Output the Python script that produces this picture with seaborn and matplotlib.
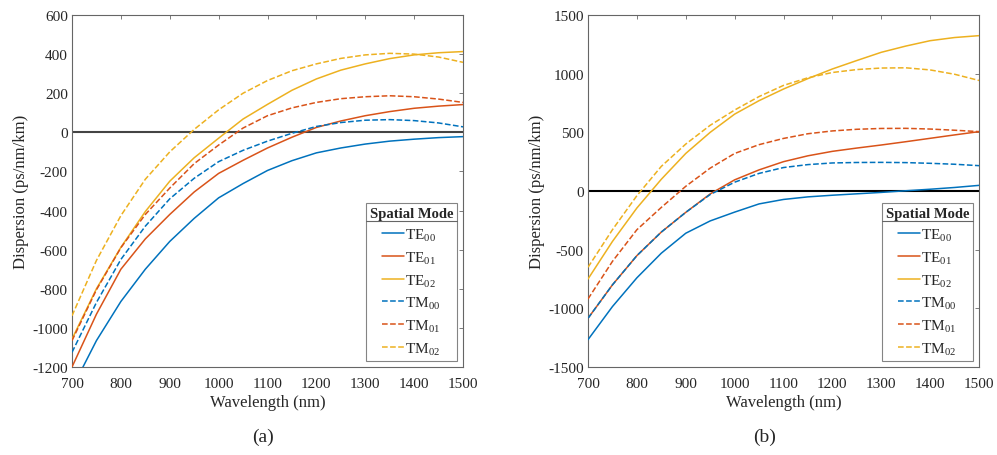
import numpy as np
import pandas as pd
import matplotlib
matplotlib.use("Agg")
import matplotlib.pyplot as plt
import seaborn as sns
from matplotlib.lines import Line2D

wavelength = [700, 750, 800, 850, 900, 950, 1000, 1050, 1100, 1150, 1200,
              1250, 1300, 1350, 1400, 1450, 1500]

# panel (a)
a_TE00 = [-1310, -1065, -865, -700, -558, -440, -335, -262, -195, -145, -105, -80, -60, -45, -35, -27, -22]
a_TE01 = [-1200, -930, -700, -545, -420, -305, -210, -143, -80, -25, 25, 58, 85, 106, 123, 134, 142]
a_TE02 = [-1057, -800, -588, -405, -250, -130, -30, 68, 143, 215, 273, 318, 350, 377, 396, 407, 413]
a_TM00 = [-1125, -870, -650, -480, -340, -235, -150, -92, -45, -5, 30, 50, 62, 65, 60, 48, 28]
a_TM01 = [-1065, -805, -590, -420, -285, -160, -65, 22, 85, 125, 153, 172, 182, 187, 182, 170, 153]
a_TM02 = [-938, -655, -426, -240, -100, 15, 115, 200, 265, 315, 350, 378, 396, 404, 400, 385, 358]

# panel (b)
b_TE00 = [-1267, -985, -740, -530, -360, -255, -180, -110, -72, -50, -36, -24, -12, 2, 15, 30, 48]
b_TE01 = [-1085, -800, -551, -350, -182, -25, 95, 180, 250, 300, 338, 366, 392, 420, 449, 478, 506]
b_TE02 = [-750, -430, -145, 100, 320, 500, 655, 770, 869, 958, 1040, 1112, 1182, 1235, 1281, 1308, 1324]
b_TM00 = [-1085, -800, -551, -350, -182, -30, 75, 150, 200, 225, 239, 243, 244, 242, 236, 228, 216]
b_TM01 = [-920, -600, -330, -140, 40, 195, 320, 395, 448, 488, 512, 526, 533, 534, 528, 518, 506]
b_TM02 = [-650, -330, -40, 210, 400, 560, 690, 805, 900, 965, 1010, 1035, 1048, 1050, 1032, 995, 942]

labels = [r"TE$_{\mathrm{00}}$", r"TE$_{\mathrm{01}}$", r"TE$_{\mathrm{02}}$",
          r"TM$_{\mathrm{00}}$", r"TM$_{\mathrm{01}}$", r"TM$_{\mathrm{02}}$"]
colors = ["#0072BD", "#D95319", "#EDB120", "#0072BD", "#D95319", "#EDB120"]
dashed = [False, False, False, True, True, True]

sns.set_style("white")
plt.rcParams['font.family'] = ['Liberation Serif', 'DejaVu Serif']
plt.rcParams['mathtext.fontset'] = 'custom'
plt.rcParams['mathtext.rm'] = 'Liberation Serif'
plt.rcParams['axes.unicode_minus'] = False

fig = plt.figure(figsize=(9.97, 4.56), dpi=100)
ax1 = fig.add_axes([72/997, 1-368/456, 391/997, 352/456])
ax2 = fig.add_axes([588/997, 1-368/456, 391/997, 352/456])

panels = [
    (ax1, [a_TE00, a_TE01, a_TE02, a_TM00, a_TM01, a_TM02], (-1200, 600), np.arange(-1200, 601, 200), "#444444"),
    (ax2, [b_TE00, b_TE01, b_TE02, b_TM00, b_TM01, b_TM02], (-1500, 1500), np.arange(-1500, 1501, 500), "black"),
]

legends = []
for ax, series, ylim, yticks, zcol in panels:
    ax.axhline(0, color=zcol, lw=1.5, zorder=1)
    for vals, lab, col, dsh in zip(series, labels, colors, dashed):
        df = pd.DataFrame({"Wavelength": wavelength, "D": vals})
        sns.lineplot(data=df, x="Wavelength", y="D", ax=ax, color=col, lw=1.1,
                     label=lab, linestyle="--" if dsh else "-", zorder=3,
                     **({"dashes": (4, 2.5)} if dsh else {}))
    ax.set_xlim(700, 1500)
    ax.set_ylim(*ylim)
    ax.set_xticks(np.arange(700, 1501, 100))
    ax.set_yticks(yticks)
    ax.set_xlabel("Wavelength (nm)", fontsize=12, color="#262626", labelpad=3)
    ax.set_ylabel("Dispersion (ps/nm/km)", fontsize=12, color="#262626", labelpad=2)
    ax.tick_params(direction="in", length=3, width=0.6, labelsize=11,
                   colors="#262626", top=True, right=True, pad=3)
    ax.tick_params(axis="x", pad=7)
    ax.tick_params(axis="both", color="#666666")
    for sp in ax.spines.values():
        sp.set_color("#666666")
        sp.set_linewidth(0.8)
    leg = ax.legend(loc="lower right", title="Spatial Mode", fontsize=11,
                    title_fontproperties={"weight": "bold", "size": 10.5},
                    frameon=True, fancybox=False, edgecolor="#666666",
                    handlelength=1.4, handletextpad=0.1, labelspacing=0.4,
                    borderaxespad=0.4, borderpad=0.25)
    leg.get_frame().set_linewidth(0.8)
    legends.append(leg)

fig.text(263/997, 1-437/456, "(a)", fontsize=14, ha="center", va="center")
fig.text(765/997, 1-437/456, "(b)", fontsize=14, ha="center", va="center")

# MATLAB-style separator line below the legend title
fig.canvas.draw()
r = fig.canvas.get_renderer()
inv = fig.transFigure.inverted()
for leg in legends:
    fb = leg.get_frame().get_window_extent(r)
    tb = leg.get_title().get_window_extent(r)
    y = tb.y0 - 1
    (x0, yy), (x1, _) = inv.transform([(fb.x0, y), (fb.x1, y)])
    fig.add_artist(Line2D([x0, x1], [yy, yy], transform=fig.transFigure,
                          color="#666666", lw=0.8))

fig.savefig("out.png", dpi=100)
